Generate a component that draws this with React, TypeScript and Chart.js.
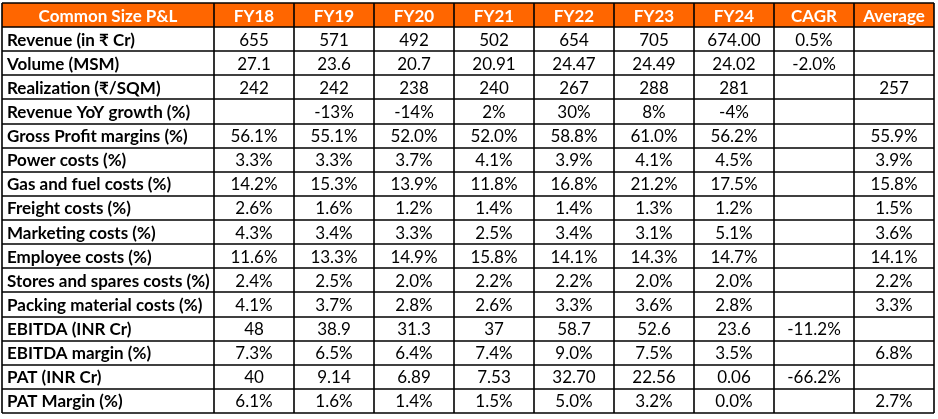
import React, { useEffect, useRef } from "react";
import { Chart, registerables } from "chart.js";

Chart.register(...registerables);

const HEADER = ["Common Size P&L", "FY18", "FY19", "FY20", "FY21", "FY22", "FY23", "FY24", "CAGR", "Average"];

const ROW_LABELS = [
  "Revenue (in ₹ Cr)",
  "Volume (MSM)",
  "Realization (₹/SQM)",
  "Revenue YoY growth (%)",
  "Gross Profit margins (%)",
  "Power costs (%)",
  "Gas and fuel costs (%)",
  "Freight costs (%)",
  "Marketing costs (%)",
  "Employee costs (%)",
  "Stores and spares costs (%)",
  "Packing material costs (%)",
  "EBITDA (INR Cr)",
  "EBITDA margin (%)",
  "PAT (INR Cr)",
  "PAT Margin (%)",
];

const FY18 = ["655", "27.1", "242", "", "56.1%", "3.3%", "14.2%", "2.6%", "4.3%", "11.6%", "2.4%", "4.1%", "48", "7.3%", "40", "6.1%"];
const FY19 = ["571", "23.6", "242", "-13%", "55.1%", "3.3%", "15.3%", "1.6%", "3.4%", "13.3%", "2.5%", "3.7%", "38.9", "6.5%", "9.14", "1.6%"];
const FY20 = ["492", "20.7", "238", "-14%", "52.0%", "3.7%", "13.9%", "1.2%", "3.3%", "14.9%", "2.0%", "2.8%", "31.3", "6.4%", "6.89", "1.4%"];
const FY21 = ["502", "20.91", "240", "2%", "52.0%", "4.1%", "11.8%", "1.4%", "2.5%", "15.8%", "2.2%", "2.6%", "37", "7.4%", "7.53", "1.5%"];
const FY22 = ["654", "24.47", "267", "30%", "58.8%", "3.9%", "16.8%", "1.4%", "3.4%", "14.1%", "2.2%", "3.3%", "58.7", "9.0%", "32.70", "5.0%"];
const FY23 = ["705", "24.49", "288", "8%", "61.0%", "4.1%", "21.2%", "1.3%", "3.1%", "14.3%", "2.0%", "3.6%", "52.6", "7.5%", "22.56", "3.2%"];
const FY24 = ["674.00", "24.02", "281", "-4%", "56.2%", "4.5%", "17.5%", "1.2%", "5.1%", "14.7%", "2.0%", "2.8%", "23.6", "3.5%", "0.06", "0.0%"];
const CAGR = ["0.5%", "-2.0%", "", "", "", "", "", "", "", "", "", "", "-11.2%", "", "-66.2%", ""];
const AVERAGE = ["", "", "257", "", "55.9%", "3.9%", "15.8%", "1.5%", "3.6%", "14.1%", "2.2%", "3.3%", "", "6.8%", "", "2.7%"];

const VALUE_COLUMNS = [FY18, FY19, FY20, FY21, FY22, FY23, FY24, CAGR, AVERAGE];

// layout (column widths in scale units)
const LABEL_COL_WIDTH = 2.65;
const VALUE_COL_WIDTH = 1;
const FONT = "Lato, 'Noto Sans', 'DejaVu Sans', sans-serif";
const FONT_SIZE = 17;
const ORANGE = "#FF6600";

export default function App() {
  const canvasRef = useRef<HTMLCanvasElement | null>(null);

  useEffect(() => {
    document.body.style.margin = "0";
    const canvas = canvasRef.current;
    if (!canvas) return;

    const nRows = ROW_LABELS.length + 1;
    const colEdges: number[] = [0, LABEL_COL_WIDTH];
    VALUE_COLUMNS.forEach(() => colEdges.push(colEdges[colEdges.length - 1] + VALUE_COL_WIDTH));
    const xMax = colEdges[colEdges.length - 1];

    type Cell = { x: number; y: number; text: string; kind: "header" | "label" | "value" };
    const cells: Cell[] = [];
    HEADER.forEach((h, c) => {
      cells.push({ x: (colEdges[c] + colEdges[c + 1]) / 2, y: 0.5, text: h, kind: "header" });
    });
    ROW_LABELS.forEach((lab, r) => {
      cells.push({ x: colEdges[0], y: r + 1.5, text: lab, kind: "label" });
      VALUE_COLUMNS.forEach((col, c) => {
        cells.push({ x: (colEdges[c + 1] + colEdges[c + 2]) / 2, y: r + 1.5, text: col[r], kind: "value" });
      });
    });

    const tablePlugin = {
      id: "tablePlugin",
      beforeDatasetsDraw(chart: any) {
        const ctx = chart.ctx;
        const xs = chart.scales.x;
        const ys = chart.scales.y;
        ctx.save();
        const x0 = xs.getPixelForValue(0);
        const x1 = xs.getPixelForValue(xMax);
        const yh0 = ys.getPixelForValue(0);
        const yh1 = ys.getPixelForValue(1);
        ctx.fillStyle = ORANGE;
        ctx.fillRect(x0, yh0, x1 - x0, yh1 - yh0);
        ctx.strokeStyle = "#000000";
        ctx.lineWidth = 1.6;
        const yTop = ys.getPixelForValue(0);
        const yBot = ys.getPixelForValue(nRows);
        colEdges.forEach((e) => {
          const px = Math.round(xs.getPixelForValue(e));
          ctx.beginPath();
          ctx.moveTo(px, yTop);
          ctx.lineTo(px, yBot);
          ctx.stroke();
        });
        for (let r = 0; r <= nRows; r++) {
          const py = Math.round(ys.getPixelForValue(r));
          ctx.beginPath();
          ctx.moveTo(x0, py);
          ctx.lineTo(x1, py);
          ctx.stroke();
        }
        ctx.restore();
      },
      afterDatasetsDraw(chart: any) {
        const ctx = chart.ctx;
        const meta = chart.getDatasetMeta(0);
        const data = chart.data.datasets[0].data as Cell[];
        ctx.save();
        ctx.textBaseline = "middle";
        meta.data.forEach((el: any, i: number) => {
          const cell = data[i];
          if (!cell.text) return;
          if (cell.kind === "header") {
            ctx.font = `bold ${FONT_SIZE}px ${FONT}`;
            ctx.fillStyle = "#ffffff";
            ctx.textAlign = "center";
            ctx.fillText(cell.text, el.x, el.y + 1);
          } else if (cell.kind === "label") {
            ctx.font = `bold ${FONT_SIZE}px ${FONT}`;
            ctx.fillStyle = "#000000";
            ctx.textAlign = "left";
            ctx.fillText(cell.text, el.x + 5, el.y + 1);
          } else {
            ctx.font = `${FONT_SIZE}px ${FONT}`;
            ctx.fillStyle = "#000000";
            ctx.textAlign = "center";
            ctx.fillText(cell.text, el.x, el.y + 1);
          }
        });
        ctx.restore();
      },
    };

    const chart = new Chart(canvas, {
      type: "scatter",
      data: {
        datasets: [
          {
            data: cells as any,
            pointRadius: 0,
            pointHoverRadius: 0,
            showLine: false,
          },
        ],
      },
      options: {
        animation: false,
        responsive: false,
        devicePixelRatio: 1,
        events: [],
        layout: { padding: { left: 2, top: 3, right: 4, bottom: 6 } },
        plugins: { legend: { display: false }, tooltip: { enabled: false } },
        scales: {
          x: { type: "linear", min: 0, max: xMax, display: false },
          y: { type: "linear", min: 0, max: nRows, reverse: true, display: false },
        },
      },
      plugins: [tablePlugin],
    });

    return () => chart.destroy();
  }, []);

  return (
    <div style={{ width: 938, height: 419, background: "#ffffff" }}>
      <canvas ref={canvasRef} width={938} height={419} />
    </div>
  );
}
